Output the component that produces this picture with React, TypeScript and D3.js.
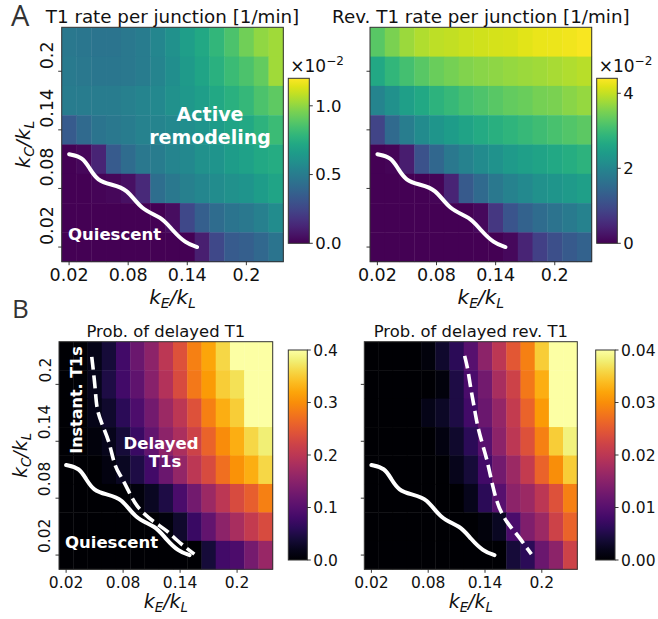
import React from 'react';
import * as d3 from 'd3';

// k_E/k_L column centres and k_C/k_L row centres (rows listed top -> bottom)
const KE = [0.02, 0.035, 0.05, 0.065, 0.08, 0.095, 0.11, 0.125, 0.14, 0.155, 0.17, 0.185, 0.2, 0.215, 0.23];
const KC_ROWS = [0.23, 0.2, 0.17, 0.14, 0.11, 0.08, 0.05, 0.02];
const AXIS_TICKS = [0.02, 0.08, 0.14, 0.2];
const AXIS_TICK_LABELS = ['0.02', '0.08', '0.14', '0.2'];

// T1 rate per junction [1/min], in units of 1e-2
const T1_RATE = [
  [0.48, 0.47, 0.46, 0.46, 0.48, 0.50, 0.55, 0.60, 0.67, 0.72, 0.79, 0.86, 0.94, 1.00, 1.03],
  [0.49, 0.48, 0.47, 0.47, 0.48, 0.50, 0.54, 0.59, 0.65, 0.70, 0.76, 0.82, 0.86, 0.91, 1.03],
  [0.50, 0.50, 0.50, 0.50, 0.52, 0.54, 0.56, 0.60, 0.64, 0.67, 0.72, 0.76, 0.80, 0.86, 0.90],
  [0.34, 0.41, 0.46, 0.48, 0.50, 0.53, 0.54, 0.56, 0.59, 0.62, 0.66, 0.70, 0.72, 0.77, 0.82],
  [0.00, 0.02, 0.12, 0.34, 0.42, 0.48, 0.50, 0.54, 0.56, 0.60, 0.62, 0.66, 0.68, 0.72, 0.74],
  [0.00, 0.00, 0.01, 0.02, 0.05, 0.14, 0.43, 0.48, 0.52, 0.55, 0.58, 0.60, 0.62, 0.66, 0.70],
  [0.00, 0.00, 0.00, 0.00, 0.00, 0.00, 0.00, 0.04, 0.26, 0.36, 0.42, 0.46, 0.48, 0.52, 0.58],
  [0.00, 0.00, 0.00, 0.00, 0.00, 0.00, 0.00, 0.00, 0.00, 0.10, 0.26, 0.34, 0.36, 0.40, 0.46],
];

// Rev. T1 rate per junction [1/min], in units of 1e-2
const REV_T1_RATE = [
  [3.26, 3.52, 3.74, 3.87, 3.96, 4.00, 4.05, 4.09, 4.11, 4.14, 4.20, 4.25, 4.27, 4.31, 4.36],
  [2.64, 2.90, 3.08, 3.26, 3.39, 3.48, 3.56, 3.61, 3.65, 3.70, 3.74, 3.78, 3.83, 3.87, 3.92],
  [1.98, 2.20, 2.46, 2.64, 2.82, 2.95, 3.08, 3.17, 3.26, 3.34, 3.39, 3.48, 3.52, 3.61, 3.70],
  [0.88, 1.50, 1.85, 2.11, 2.29, 2.42, 2.55, 2.68, 2.77, 2.86, 2.95, 3.04, 3.12, 3.21, 3.30],
  [0.00, 0.04, 0.35, 1.10, 1.45, 1.76, 1.94, 2.11, 2.24, 2.38, 2.46, 2.55, 2.64, 2.73, 2.82],
  [0.00, 0.00, 0.00, 0.00, 0.04, 0.44, 1.23, 1.50, 1.76, 1.94, 2.07, 2.20, 2.29, 2.38, 2.46],
  [0.00, 0.00, 0.00, 0.00, 0.00, 0.00, 0.00, 0.09, 0.70, 1.14, 1.36, 1.54, 1.67, 1.80, 1.94],
  [0.00, 0.00, 0.00, 0.00, 0.00, 0.00, 0.00, 0.00, 0.00, 0.09, 0.44, 0.84, 1.06, 1.23, 1.36],
];

// Probability of delayed T1
const P_DELAYED_T1 = [
  [0, 0.004, 0.016, 0.040, 0.080, 0.120, 0.152, 0.200, 0.240, 0.288, 0.320, 0.360, 0.420, 0.450, 0.450],
  [0, 0.004, 0.020, 0.048, 0.080, 0.108, 0.148, 0.192, 0.232, 0.280, 0.312, 0.352, 0.368, 0.420, 0.450],
  [0, 0.000, 0.016, 0.032, 0.060, 0.092, 0.128, 0.168, 0.200, 0.240, 0.288, 0.328, 0.352, 0.420, 0.450],
  [0, 0.000, 0.008, 0.020, 0.040, 0.072, 0.112, 0.152, 0.184, 0.220, 0.260, 0.300, 0.328, 0.360, 0.380],
  [0, 0.000, 0.000, 0.012, 0.024, 0.048, 0.080, 0.120, 0.160, 0.200, 0.232, 0.272, 0.304, 0.328, 0.360],
  [0, 0.000, 0.000, 0.000, 0.000, 0.008, 0.024, 0.048, 0.088, 0.128, 0.168, 0.200, 0.232, 0.256, 0.288],
  [0, 0.000, 0.000, 0.000, 0.000, 0.000, 0.000, 0.008, 0.032, 0.072, 0.112, 0.152, 0.180, 0.208, 0.232],
  [0, 0.000, 0.000, 0.000, 0.000, 0.000, 0.000, 0.000, 0.000, 0.000, 0.040, 0.080, 0.090, 0.130, 0.165],
];

// Probability of delayed reversed T1
const P_DELAYED_REV_T1 = [
  [0, 0, 0, 0, 0.0008, 0.0032, 0.0060, 0.0100, 0.0152, 0.0200, 0.0248, 0.0288, 0.0352, 0.0420, 0.0450],
  [0, 0, 0, 0, 0.0000, 0.0008, 0.0048, 0.0088, 0.0128, 0.0180, 0.0220, 0.0280, 0.0328, 0.0420, 0.0450],
  [0, 0, 0, 0, 0.0016, 0.0028, 0.0048, 0.0080, 0.0120, 0.0160, 0.0208, 0.0260, 0.0312, 0.0420, 0.0450],
  [0, 0, 0, 0, 0.0000, 0.0012, 0.0032, 0.0060, 0.0100, 0.0152, 0.0200, 0.0240, 0.0288, 0.0352, 0.0384],
  [0, 0, 0, 0, 0.0000, 0.0000, 0.0020, 0.0040, 0.0080, 0.0128, 0.0168, 0.0208, 0.0260, 0.0300, 0.0352],
  [0, 0, 0, 0, 0.0000, 0.0000, 0.0000, 0.0020, 0.0060, 0.0100, 0.0152, 0.0168, 0.0200, 0.0240, 0.0288],
  [0, 0, 0, 0, 0.0000, 0.0000, 0.0000, 0.0000, 0.0008, 0.0024, 0.0088, 0.0140, 0.0168, 0.0220, 0.0260],
  [0, 0, 0, 0, 0.0000, 0.0000, 0.0000, 0.0000, 0.0000, 0.0000, 0.0040, 0.0060, 0.0120, 0.0152, 0.0220],
];

// Quiescent / active boundary (solid white line)
const BOUNDARY_KE = [0.02, 0.034, 0.041, 0.049, 0.062, 0.079, 0.093, 0.114, 0.125, 0.138, 0.150];
const BOUNDARY_KC = [0.115, 0.112, 0.100, 0.088, 0.084, 0.080, 0.058, 0.051, 0.037, 0.024, 0.020];
// Instant / delayed T1 boundary (dashed)
const DELAYED_T1_KE = [0.047, 0.051, 0.052, 0.059, 0.066, 0.071, 0.078, 0.085, 0.092, 0.101, 0.115, 0.126, 0.136, 0.147, 0.155];
const DELAYED_T1_KC = [0.229, 0.194, 0.173, 0.155, 0.138, 0.113, 0.103, 0.089, 0.075, 0.064, 0.053, 0.046, 0.036, 0.027, 0.021];
// Delayed reversed T1 boundary (dashed)
const DELAYED_REV_KE = [0.1185, 0.122, 0.125, 0.129, 0.132, 0.137, 0.142, 0.145, 0.149, 0.154, 0.163, 0.173, 0.181, 0.189];
const DELAYED_REV_KC = [0.230, 0.216, 0.195, 0.174, 0.156, 0.138, 0.121, 0.107, 0.089, 0.071, 0.054, 0.043, 0.032, 0.021];

const CB_T1_TICKS = [0, 0.5, 1.0];
const CB_T1_LABELS = ['0.0', '0.5', '1.0'];
const CB_REV_TICKS = [0, 2, 4];
const CB_REV_LABELS = ['0', '2', '4'];
const CB_P_TICKS = [0, 0.1, 0.2, 0.3, 0.4];
const CB_P_LABELS = ['0.0', '0.1', '0.2', '0.3', '0.4'];
const CB_PREV_TICKS = [0, 0.01, 0.02, 0.03, 0.04];
const CB_PREV_LABELS = ['0.00', '0.01', '0.02', '0.03', '0.04'];

const FONT = 'DejaVu Sans';

type Box = { x0: number; x1: number; y0: number; y1: number };
type Line = { ke: number[]; kc: number[]; dashed: boolean };

interface PanelProps {
  id: string;
  box: Box;
  cb: Box;
  data: number[][];
  interp: (t: number) => string;
  vmax: number;
  cbTicks: number[];
  cbLabels: string[];
  title: string;
  titleSize: number;
  titleY: number;
  tickSize: number;
  cbTickSize: number;
  showYLabels: boolean;
  xLabelY: number;
  labelSize: number;
  lines: Line[];
  offsetText?: boolean;
}

function AxisLabel({ x, y, sub1, sub2, size, rotate }: { x: number; y: number; sub1: string; sub2: string; size: number; rotate?: boolean }) {
  const s = size * 0.7;
  const dy = size * 0.22;
  return (
    <text
      x={x}
      y={y}
      fontFamily={FONT}
      fontStyle="italic"
      fontSize={size}
      textAnchor="middle"
      fill="#111"
      transform={rotate ? `rotate(-90, ${x}, ${y})` : undefined}
    >
      <tspan>k</tspan>
      <tspan fontSize={s} dy={dy}>{sub1}</tspan>
      <tspan dy={-dy}>/k</tspan>
      <tspan fontSize={s} dy={dy}>{sub2}</tspan>
    </text>
  );
}

function Panel(p: PanelProps) {
  const xs = d3.scaleLinear().domain([0.0125, 0.2375]).range([p.box.x0, p.box.x1]);
  const ys = d3.scaleLinear().domain([0.005, 0.245]).range([p.box.y1, p.box.y0]);
  const cs = d3.scaleLinear().domain([0, p.vmax]).range([p.cb.y1, p.cb.y0]);
  const color = (v: number) => p.interp(Math.max(0, Math.min(1, v / p.vmax)));
  const lineGen = d3
    .line<[number, number]>()
    .x((d) => xs(d[0]))
    .y((d) => ys(d[1]))
    .curve(d3.curveBasis);
  const gradId = `grad-${p.id}`;
  const stops = d3.range(0, 1.0001, 0.05);
  const cx = (p.box.x0 + p.box.x1) / 2;
  const cy = (p.box.y0 + p.box.y1) / 2;
  return (
    <g>
      <defs>
        <linearGradient id={gradId} x1="0" y1="1" x2="0" y2="0">
          {stops.map((t) => (
            <stop key={t} offset={t} stopColor={p.interp(t)} />
          ))}
        </linearGradient>
      </defs>
      {/* cells */}
      {p.data.map((row, i) =>
        row.map((v, j) => {
          const x = xs(KE[j] - 0.0075);
          const w = xs(KE[j] + 0.0075) - x;
          const y = ys(KC_ROWS[i] + 0.015);
          const h = ys(KC_ROWS[i] - 0.015) - y;
          return <rect key={`${i}-${j}`} x={x} y={y} width={w + 0.4} height={h + 0.4} fill={color(v)} />;
        })
      )}
      {/* overlay lines */}
      {p.lines.map((ln, k) => (
        <path
          key={k}
          d={lineGen(ln.ke.map((e, idx) => [e, ln.kc[idx]] as [number, number])) || ''}
          fill="none"
          stroke="#fff"
          strokeWidth={ln.dashed ? 3.6 : 4}
          strokeDasharray={ln.dashed ? '13 5.6' : undefined}
          strokeLinecap={ln.dashed ? 'butt' : 'round'}
          strokeLinejoin="round"
        />
      ))}
      {/* frame */}
      <rect
        x={p.box.x0}
        y={p.box.y0}
        width={p.box.x1 - p.box.x0}
        height={p.box.y1 - p.box.y0}
        fill="none"
        stroke="#333"
        strokeWidth={1}
      />
      {/* x ticks */}
      {AXIS_TICKS.map((t, i) => (
        <g key={`xt${i}`}>
          <line x1={xs(t)} x2={xs(t)} y1={p.box.y1} y2={p.box.y1 + 3.5} stroke="#222" strokeWidth={0.9} />
          <text
            x={xs(t)}
            y={p.box.y1 + 7 + p.tickSize * 0.73}
            fontFamily={FONT}
            fontSize={p.tickSize}
            textAnchor="middle"
            fill="#111"
          >
            {AXIS_TICK_LABELS[i]}
          </text>
        </g>
      ))}
      {/* y ticks */}
      {AXIS_TICKS.map((t, i) => {
        const tx = p.box.x0 - 8.5;
        const ty = ys(t) - 2;
        return (
          <g key={`yt${i}`}>
            <line x1={p.box.x0 - 3.5} x2={p.box.x0} y1={ys(t)} y2={ys(t)} stroke="#222" strokeWidth={0.9} />
            {p.showYLabels && (
              <text
                x={tx}
                y={ty}
                fontFamily={FONT}
                fontSize={p.tickSize}
                textAnchor="start"
                fill="#111"
                transform={`rotate(-90, ${tx}, ${ty})`}
              >
                {AXIS_TICK_LABELS[i]}
              </text>
            )}
          </g>
        );
      })}
      {/* title */}
      <text x={cx} y={p.titleY} fontFamily={FONT} fontSize={p.titleSize} textAnchor="middle" fill="#111">
        {p.title}
      </text>
      {/* axis labels */}
      <AxisLabel x={cx} y={p.xLabelY} sub1="E" sub2="L" size={p.labelSize} />
      {p.showYLabels && (
        <AxisLabel x={p.box.x0 - 32} y={cy} sub1="C" sub2="L" size={p.labelSize} rotate />
      )}
      {/* colorbar */}
      <rect
        x={p.cb.x0}
        y={p.cb.y0}
        width={p.cb.x1 - p.cb.x0}
        height={p.cb.y1 - p.cb.y0}
        fill={`url(#${gradId})`}
        stroke="#333"
        strokeWidth={1}
      />
      {p.cbTicks.map((t, i) => (
        <g key={`cb${i}`}>
          <line x1={p.cb.x1} x2={p.cb.x1 + 3.5} y1={cs(t)} y2={cs(t)} stroke="#222" strokeWidth={0.9} />
          <text
            x={p.cb.x1 + 6}
            y={cs(t) + p.cbTickSize * 0.36}
            fontFamily={FONT}
            fontSize={p.cbTickSize}
            fill="#111"
          >
            {p.cbLabels[i]}
          </text>
        </g>
      ))}
      {p.offsetText && (
        <text x={p.cb.x0 + 2} y={p.cb.y0 - 6} fontFamily={FONT} fontSize={17} fill="#111">
          ×10
          <tspan fontSize={12} dy={-7}>−2</tspan>
        </text>
      )}
    </g>
  );
}

const boundary: Line = { ke: BOUNDARY_KE, kc: BOUNDARY_KC, dashed: false };
const delayedT1: Line = { ke: DELAYED_T1_KE, kc: DELAYED_T1_KC, dashed: true };
const delayedRev: Line = { ke: DELAYED_REV_KE, kc: DELAYED_REV_KC, dashed: true };

const BOLD = { fontFamily: FONT, fontWeight: 700, fill: '#fff' } as const;

export default function App() {
  return (
    <svg
      width={658}
      height={619}
      style={{ position: 'absolute', left: 0, top: 0, background: '#fff' }}
    >
      <rect width={658} height={619} fill="#fff" />
      <Panel
        id="a1"
        box={{ x0: 61.7, x1: 283.3, y0: 27.3, y1: 261.7 }}
        cb={{ x0: 288.3, x1: 309.3, y0: 78.3, y1: 243.3 }}
        data={T1_RATE}
        interp={d3.interpolateViridis}
        vmax={1.2}
        cbTicks={CB_T1_TICKS}
        cbLabels={CB_T1_LABELS}
        title="T1 rate per junction [1/min]"
        titleSize={18.3}
        titleY={22.5}
        tickSize={17.5}
        cbTickSize={16.5}
        showYLabels
        xLabelY={304}
        labelSize={20}
        lines={[boundary]}
        offsetText
      />
      <Panel
        id="a2"
        box={{ x0: 370, x1: 591.7, y0: 27.3, y1: 261.7 }}
        cb={{ x0: 596.7, x1: 617.3, y0: 78.3, y1: 243.3 }}
        data={REV_T1_RATE}
        interp={d3.interpolateViridis}
        vmax={4.4}
        cbTicks={CB_REV_TICKS}
        cbLabels={CB_REV_LABELS}
        title="Rev. T1 rate per junction [1/min]"
        titleSize={18.3}
        titleY={22.5}
        tickSize={17.5}
        cbTickSize={16.5}
        showYLabels={false}
        xLabelY={304}
        labelSize={20}
        lines={[boundary]}
        offsetText
      />
      <Panel
        id="b1"
        box={{ x0: 59, x1: 272.7, y0: 341.7, y1: 569.3 }}
        cb={{ x0: 288.3, x1: 307.3, y0: 350, y1: 560 }}
        data={P_DELAYED_T1}
        interp={d3.interpolateInferno}
        vmax={0.4}
        cbTicks={CB_P_TICKS}
        cbLabels={CB_P_LABELS}
        title="Prob. of delayed T1"
        titleSize={16.4}
        titleY={337}
        tickSize={15.5}
        cbTickSize={15.5}
        showYLabels
        xLabelY={608}
        labelSize={19}
        lines={[boundary, delayedT1]}
      />
      <Panel
        id="b2"
        box={{ x0: 364.3, x1: 577.3, y0: 341.7, y1: 569.3 }}
        cb={{ x0: 595.7, x1: 615, y0: 350, y1: 560 }}
        data={P_DELAYED_REV_T1}
        interp={d3.interpolateInferno}
        vmax={0.04}
        cbTicks={CB_PREV_TICKS}
        cbLabels={CB_PREV_LABELS}
        title="Prob. of delayed rev. T1"
        titleSize={16.4}
        titleY={337}
        tickSize={15.5}
        cbTickSize={15.5}
        showYLabels={false}
        xLabelY={608}
        labelSize={19}
        lines={[boundary, delayedRev]}
      />
      {/* panel letters */}
      <text x={11} y={25.5} fontFamily="Open Sans, DejaVu Sans" fontWeight={400} fontSize={29} fill="#333">A</text>
      <text x={12} y={318} fontFamily="Open Sans, DejaVu Sans" fontWeight={400} fontSize={26} fill="#333">B</text>
      {/* annotations */}
      <text {...BOLD} fontSize={19} x={210} y={120.7} textAnchor="middle">Active</text>
      <text {...BOLD} fontSize={19} x={210} y={144} textAnchor="middle">remodeling</text>
      <text {...BOLD} fontSize={16.5} x={68} y={240.3}>Quiescent</text>
      <text {...BOLD} fontSize={16.5} x={65} y={548.3}>Quiescent</text>
      <text {...BOLD} fontSize={16.5} x={161} y={449.3} textAnchor="middle">Delayed</text>
      <text {...BOLD} fontSize={16.5} x={165} y={466.7} textAnchor="middle">T1s</text>
      <text {...BOLD} fontSize={16} x={81.7} y={400} textAnchor="middle" transform="rotate(-90, 81.7, 400)">
        Instant. T1s
      </text>
    </svg>
  );
}
